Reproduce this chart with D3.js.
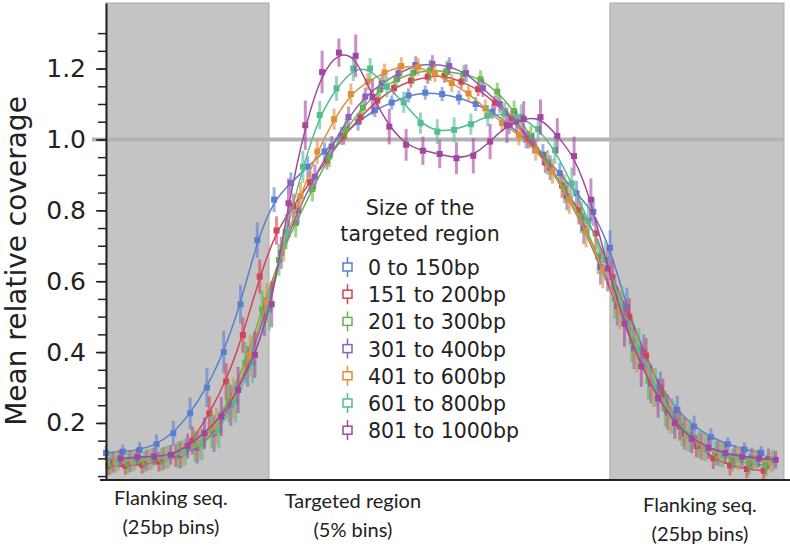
<!DOCTYPE html>
<html>
<head>
<meta charset="utf-8">
<script src="https://cdn.jsdelivr.net/npm/d3@7"></script>
<style>
  body { margin: 0; background: #fff; }
  svg text { fill: #222; }
</style>
</head>
<body>
<div id="chart"></div>
<script>
'use strict';

// bins: 0-9 left flank (25bp), 10-29 targeted region (5%), 30-39 right flank (25bp)
const bins = d3.range(40);

const sizeLabels = ['0 to 150bp', '151 to 200bp', '201 to 300bp', '301 to 400bp',
    '401 to 600bp', '601 to 800bp', '801 to 1000bp'];

const colors = ['#5b7fd0', '#d2435b', '#62b547', '#8b60b5', '#de8f38', '#55bb90', '#a3469f'];

const cov0to150 = [0.115,0.119,0.124,0.140,0.171,0.227,0.300,0.400,0.535,0.716,
    0.830,0.877,0.923,0.966,1.010,1.050,1.083,1.104,1.124,1.132,1.128,1.118,1.100,1.078,1.040,1.000,0.957,0.905,0.848,0.796,
    0.694,0.527,0.400,0.300,0.237,0.190,0.160,0.140,0.125,0.115];
const cov151to200 = [0.078,0.079,0.082,0.091,0.108,0.150,0.227,0.317,0.448,0.613,
    0.743,0.812,0.880,0.940,1.010,1.063,1.110,1.145,1.166,1.177,1.180,1.163,1.142,1.104,1.060,1.000,0.935,0.870,0.800,0.735,
    0.611,0.500,0.390,0.280,0.190,0.135,0.100,0.080,0.070,0.065];
const cov201to300 = [0.085,0.086,0.090,0.097,0.110,0.135,0.180,0.260,0.370,0.520,
    0.660,0.764,0.860,0.952,1.030,1.090,1.140,1.170,1.188,1.195,1.192,1.185,1.170,1.135,1.080,1.008,0.935,0.860,0.780,0.670,
    0.550,0.430,0.320,0.240,0.180,0.140,0.115,0.095,0.085,0.080];
const cov301to400 = [0.090,0.092,0.095,0.100,0.110,0.130,0.170,0.250,0.360,0.500,
    0.680,0.800,0.895,0.980,1.063,1.121,1.159,1.187,1.210,1.213,1.207,1.187,1.145,1.100,1.050,0.990,0.920,0.840,0.750,0.640,
    0.530,0.410,0.310,0.230,0.170,0.135,0.115,0.105,0.100,0.098];
const cov401to600 = [0.090,0.092,0.096,0.102,0.115,0.140,0.190,0.270,0.390,0.540,
    0.700,0.840,0.966,1.057,1.128,1.163,1.189,1.207,1.205,1.187,1.159,1.130,1.088,1.046,1.013,0.970,0.910,0.830,0.740,0.630,
    0.520,0.400,0.300,0.220,0.165,0.130,0.110,0.100,0.095,0.090];
const cov601to800 = [0.095,0.096,0.100,0.105,0.118,0.140,0.180,0.260,0.370,0.520,
    0.740,0.923,1.069,1.144,1.200,1.200,1.149,1.105,1.046,1.022,1.027,1.043,1.067,1.074,1.064,1.029,0.970,0.876,0.770,0.660,
    0.530,0.410,0.300,0.220,0.165,0.130,0.110,0.100,0.095,0.095];
const cov801to1000 = [0.100,0.104,0.105,0.110,0.135,0.171,0.218,0.293,0.392,0.535,
    0.820,1.040,1.190,1.245,1.236,1.120,1.036,0.985,0.968,0.959,0.947,0.954,0.994,1.040,1.058,1.063,1.010,0.953,0.830,0.636,
    0.480,0.360,0.270,0.200,0.155,0.130,0.115,0.105,0.100,0.096];

// half-length of the error bars
const err0to150 = [0.020,0.020,0.022,0.028,0.035,0.045,0.055,0.060,0.055,0.050,
    0.035,0.030,0.030,0.025,0.025,0.025,0.020,0.020,0.020,0.020,0.020,0.020,0.020,0.020,0.025,0.025,0.030,0.030,0.035,0.040,
    0.050,0.055,0.050,0.045,0.040,0.030,0.025,0.020,0.020,0.020];
const err151to200 = [0.025,0.025,0.025,0.028,0.032,0.040,0.048,0.052,0.050,0.048,
    0.040,0.035,0.030,0.025,0.025,0.020,0.020,0.020,0.020,0.020,0.020,0.020,0.020,0.020,0.025,0.025,0.030,0.035,0.040,0.045,
    0.050,0.052,0.050,0.045,0.040,0.032,0.030,0.028,0.025,0.025];
const err201to300 = [0.030,0.030,0.030,0.032,0.038,0.045,0.052,0.058,0.058,0.055,
    0.045,0.040,0.035,0.030,0.030,0.025,0.025,0.025,0.030,0.030,0.030,0.025,0.025,0.025,0.030,0.030,0.035,0.040,0.045,0.050,
    0.055,0.058,0.055,0.050,0.045,0.038,0.035,0.032,0.030,0.030];
const err301to400 = [0.030,0.030,0.030,0.032,0.038,0.045,0.052,0.058,0.058,0.055,
    0.045,0.040,0.035,0.030,0.030,0.025,0.025,0.025,0.025,0.025,0.025,0.025,0.025,0.025,0.030,0.030,0.035,0.040,0.045,0.050,
    0.055,0.058,0.055,0.050,0.045,0.038,0.035,0.032,0.030,0.030];
const err401to600 = [0.030,0.030,0.030,0.032,0.038,0.045,0.052,0.058,0.058,0.055,
    0.045,0.040,0.035,0.030,0.030,0.025,0.025,0.025,0.025,0.025,0.025,0.025,0.025,0.025,0.030,0.030,0.035,0.040,0.045,0.050,
    0.055,0.058,0.055,0.050,0.045,0.038,0.035,0.032,0.030,0.030];
const err601to800 = [0.030,0.030,0.030,0.032,0.038,0.045,0.052,0.058,0.058,0.060,
    0.050,0.045,0.040,0.035,0.035,0.030,0.030,0.030,0.030,0.035,0.035,0.030,0.030,0.030,0.035,0.035,0.040,0.045,0.050,0.055,
    0.055,0.058,0.055,0.050,0.045,0.038,0.035,0.032,0.030,0.030];
const err801to1000 = [0.025,0.025,0.025,0.028,0.035,0.045,0.055,0.065,0.065,0.065,
    0.070,0.070,0.060,0.040,0.060,0.050,0.050,0.045,0.040,0.040,0.045,0.050,0.050,0.050,0.050,0.050,0.050,0.055,0.060,0.065,
    0.065,0.058,0.055,0.045,0.040,0.032,0.030,0.028,0.025,0.025];

const yMajorTicks = [0.2, 0.4, 0.6, 0.8, 1.0, 1.2];
const yMinorTicks = d3.range(0.05, 1.301, 0.05);

const regionLabels = [['Flanking seq.', '(25bp bins)'], ['Targeted region', '(5% bins)'], ['Flanking seq.', '(25bp bins)']];

const series = [
    {name: sizeLabels[0], color: colors[0], values: cov0to150, err: err0to150},
    {name: sizeLabels[1], color: colors[1], values: cov151to200, err: err151to200},
    {name: sizeLabels[2], color: colors[2], values: cov201to300, err: err201to300},
    {name: sizeLabels[3], color: colors[3], values: cov301to400, err: err301to400},
    {name: sizeLabels[4], color: colors[4], values: cov401to600, err: err401to600},
    {name: sizeLabels[5], color: colors[5], values: cov601to800, err: err601to800},
    {name: sizeLabels[6], color: colors[6], values: cov801to1000, err: err801to1000}
];

const width = 790, height = 548;
const font = '"DejaVu Sans", Verdana, sans-serif';

const svg = d3.select('#chart').append('svg')
    .attr('width', width)
    .attr('height', height);

const x = d3.scaleLinear().domain([0, 39]).range([113.3, 768.5]);
const y = d3.scaleLinear().domain([0.039, 1.385]).range([480, 3]);

// grey boxes behind the flanking bins
const flanks = [[-0.43, 9.27], [29.56, 39.92]];
svg.selectAll('rect.flank')
    .data(flanks)
    .join('rect')
    .attr('class', 'flank')
    .attr('x', d => x(d[0]))
    .attr('width', d => x(d[1]) - x(d[0]))
    .attr('y', y.range()[1])
    .attr('height', y.range()[0] - y.range()[1])
    .attr('fill', '#c4c4c4')
    .attr('stroke', '#ababab')
    .attr('stroke-width', 1);

// reference line at 1.0
svg.append('line')
    .attr('x1', 92).attr('x2', x(39.92))
    .attr('y1', y(1)).attr('y2', y(1))
    .attr('stroke', '#b3b3b3')
    .attr('stroke-width', 4);

// series: error bars, fitted line, points (dodged inside each bin)
const line = d3.line().curve(d3.curveBasis);

series.forEach((s, k) => {
    const off = (k - 3) * 2.4;
    const px = i => x(bins[i]) + off;
    const g = svg.append('g');

    g.selectAll('line')
        .data(s.values)
        .join('line')
        .attr('x1', (d, i) => px(i)).attr('x2', (d, i) => px(i))
        .attr('y1', (d, i) => y(d - s.err[i]))
        .attr('y2', (d, i) => y(d + s.err[i]))
        .attr('stroke', s.color)
        .attr('stroke-opacity', 0.6)
        .attr('stroke-width', 3);

    g.append('path')
        .datum(s.values)
        .attr('d', line.x((d, i) => px(i)).y(d => y(d)))
        .attr('fill', 'none')
        .attr('stroke', s.color)
        .attr('stroke-width', 1.5);

    g.selectAll('rect')
        .data(s.values)
        .join('rect')
        .attr('x', (d, i) => px(i) - 3)
        .attr('y', d => y(d) - 3)
        .attr('width', 6)
        .attr('height', 6)
        .attr('fill', s.color);
});

// y axis
const yMinor = svg.append('g')
    .attr('transform', 'translate(106,0)')
    .call(d3.axisLeft(y).tickValues(yMinorTicks).tickSize(8).tickSizeOuter(0).tickFormat(''));
yMinor.select('.domain').remove();
yMinor.selectAll('.tick line').attr('stroke', '#222').attr('stroke-width', 1.5);

const yAxis = svg.append('g')
    .attr('transform', 'translate(106,0)')
    .call(d3.axisLeft(y).tickValues(yMajorTicks).tickFormat(d3.format('.1f'))
        .tickSize(10).tickSizeOuter(0).tickPadding(10));
yAxis.select('.domain').attr('stroke', '#222').attr('stroke-width', 2);
yAxis.selectAll('.tick line').attr('stroke', '#222').attr('stroke-width', 1.5);
yAxis.selectAll('.tick text')
    .style('font-family', font)
    .style('font-size', '25px')
    .attr('fill', '#222');

svg.append('text')
    .attr('transform', 'translate(26,261) rotate(-90)')
    .attr('text-anchor', 'middle')
    .style('font-family', font)
    .style('font-size', '28px')
    .text('Mean relative coverage');

// x axis base line
svg.append('line')
    .attr('x1', 100).attr('x2', width)
    .attr('y1', 480).attr('y2', 480)
    .attr('stroke', '#222')
    .attr('stroke-width', 2);

const labelAnchors = [3.43, 14.26, 34.92];
const labelShift = [0, 3, 7];
regionLabels.forEach((lab, j) => {
    const t = svg.append('text')
        .attr('text-anchor', 'middle')
        .style('font-family', 'Lato, "Open Sans", sans-serif')
        .style('font-size', '20px');
    lab.forEach((s, r) => {
        t.append('tspan')
            .attr('x', x(labelAnchors[j]))
            .attr('y', 505 + labelShift[j] + r * 29)
            .text(s);
    });
});

// legend
const legend = svg.append('g').attr('transform', 'translate(340,0)');
legend.append('text')
    .attr('text-anchor', 'middle')
    .style('font-family', font)
    .style('font-size', '20.5px')
    .selectAll('tspan')
    .data(['Size of the', 'targeted region'])
    .join('tspan')
    .attr('x', 80)
    .attr('y', (d, i) => 215 + i * 26)
    .text(d => d);

const item = legend.selectAll('g.item')
    .data(series)
    .join('g')
    .attr('class', 'item')
    .attr('transform', (d, i) => 'translate(0,' + (275 + i * 27.2) + ')');

item.append('line')
    .attr('x1', 7.5).attr('x2', 7.5)
    .attr('y1', -18).attr('y2', 2)
    .attr('stroke', d => d.color)
    .attr('stroke-width', 1.5);
item.append('rect')
    .attr('x', 3).attr('y', -12)
    .attr('width', 9).attr('height', 8)
    .attr('fill', '#fff')
    .attr('stroke', d => d.color)
    .attr('stroke-width', 1.5);
item.append('text')
    .attr('x', 28)
    .style('font-family', font)
    .style('font-size', '20.5px')
    .text(d => d.name);
</script>
</body>
</html>
